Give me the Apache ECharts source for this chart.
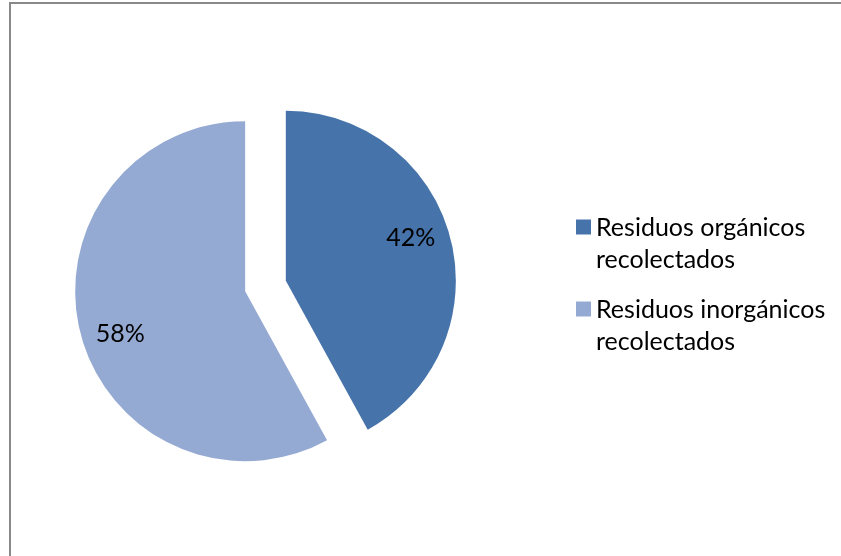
<!DOCTYPE html>
<html>
<head>
<meta charset="utf-8">
<script src="https://cdn.jsdelivr.net/npm/echarts@6/dist/echarts.min.js"></script>
<style>
  html, body { margin: 0; padding: 0; background: #fff; overflow: hidden; }
  #chart { width: 841px; height: 556px; }
</style>
</head>
<body>
<div id="chart"></div>
<script>
// Share of collected waste by type (percent)
const categories = ['Residuos orgánicos recolectados', 'Residuos inorgánicos recolectados'];
const values = [42, 58];
const colors = ['#4673AA', '#95AAD3'];

const FONT = 'Lato, "Liberation Sans", sans-serif';
const CENTER = [265.5, 286];
const RADIUS = 170;
const EXPLODE = 21;

const chart = echarts.init(document.getElementById('chart'), null, { renderer: 'canvas' });

chart.setOption({
  backgroundColor: '#ffffff',
  animation: false,
  graphic: [{
    // frame: left and top edges of the chart area
    type: 'polyline',
    shape: { points: [[10, 600], [10, 3], [900, 3]] },
    style: { fill: 'none', stroke: '#898989', lineWidth: 2 },
    silent: true,
    z: 100
  }],
  legend: {
    orient: 'vertical',
    left: 576,
    top: 194,
    padding: 0,
    itemWidth: 15,
    itemHeight: 15,
    itemGap: 4,
    icon: 'rect',
    selectedMode: false,
    data: categories.map((name, i) => ({ name: name, itemStyle: { color: colors[i] } })),
    formatter: name => '{pad| }\n{t|' + name.replace(' recolectados', '}\n{t|recolectados') + '}',
    textStyle: {
      fontFamily: FONT,
      fontSize: 25,
      color: '#000',
      rich: {
        pad: { fontSize: 2, lineHeight: 33 },
        t: { fontFamily: FONT, fontSize: 25, lineHeight: 32, color: '#000' }
      }
    }
  },
  series: [
    {
      // visible slices, both pulled out from the centre
      type: 'pie',
      center: CENTER,
      radius: RADIUS,
      startAngle: 90,
      clockwise: true,
      selectedMode: 'multiple',
      selectedOffset: EXPLODE,
      label: { show: false },
      labelLine: { show: false },
      emphasis: { disabled: true },
      select: { itemStyle: {} },
      silent: true,
      data: categories.map((name, i) => ({
        name: name,
        value: values[i],
        selected: true,
        itemStyle: { color: colors[i] }
      }))
    },
    {
      // transparent ring carrying the percentage labels
      type: 'pie',
      center: CENTER,
      radius: [88, RADIUS],
      startAngle: 94,
      clockwise: true,
      selectedMode: 'multiple',
      selectedOffset: EXPLODE,
      silent: true,
      emphasis: { disabled: true },
      itemStyle: { color: 'rgba(0,0,0,0)' },
      select: { itemStyle: { color: 'rgba(0,0,0,0)' } },
      label: {
        show: true,
        position: 'inside',
        formatter: p => p.value + '%',
        fontFamily: FONT,
        fontSize: 25,
        color: '#000'
      },
      labelLine: { show: false },
      data: categories.map((name, i) => ({
        name: name,
        value: values[i],
        selected: true,
        itemStyle: { color: 'rgba(0,0,0,0)' }
      }))
    }
  ]
});
</script>
</body>
</html>
